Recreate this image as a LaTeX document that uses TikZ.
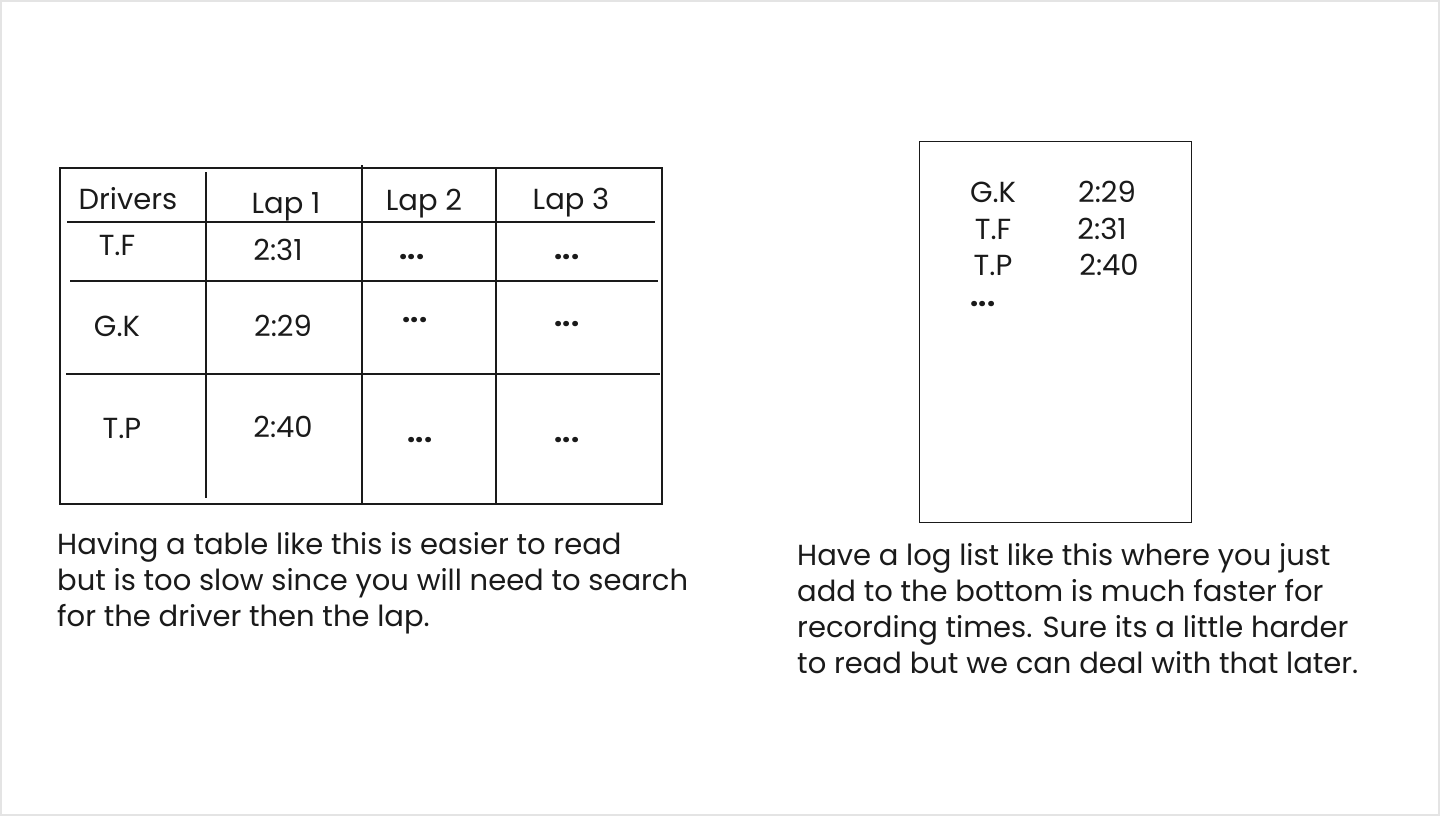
\documentclass[tikz,border=0pt]{standalone}
\usepackage{fontspec}
\setmainfont{Poppins}
\usetikzlibrary{positioning}
\definecolor{ink}{HTML}{1A1A1A}
\definecolor{edge}{HTML}{E4E4E4}
\begin{document}
\begin{tikzpicture}[x=1pt,y=-1pt,
  cell/.style={font=\fontsize{29}{32}\selectfont,text=ink,inner sep=0pt},
  dots/.style={font=\fontsize{29}{32}\selectfont\bfseries,text=ink,inner sep=0pt},
  note/.style={font=\fontsize{29}{36}\selectfont,text=ink,inner sep=0pt,align=left,anchor=north west},
  rule/.style={draw=ink,line width=1.3pt}]
\useasboundingbox (0,0) rectangle (1440,816);
\draw[edge,line width=4pt] (0,0) rectangle (1440,816);

% lap table
\draw[rule] (60,168) rectangle (662,504);
\draw[rule] (67,222) -- (655,222);
\draw[rule] (70,281) -- (658,281);
\draw[rule] (66,374) -- (660,374);
\draw[rule] (206,172) -- (206,498);
\draw[rule] (362,165) -- (362,504);
\draw[rule] (496,168) -- (496,503);

\node[cell] (hdrv) at (128,199) {Drivers};
\node[cell] (hlap1) at (286,207) {Lap 1};
\node[cell] (hlap2) at (424,204) {Lap 2};
\node[cell] (hlap3) at (571,203) {Lap 3};
\node[cell] (tf) at (117,245) {T.F};
\node[cell] (tf1) at (278,250) {2:31};
\node[dots] (tf2) at (412,257) {...};
\node[dots] (tf3) at (567,257) {...};
\node[cell] (gk) at (117,326) {G.K};
\node[cell] (gk1) at (283,326) {2:29};
\node[dots] (gk2) at (415,320) {...};
\node[dots] (gk3) at (567,324) {...};
\node[cell] (tp) at (122,428) {T.P};
\node[cell] (tp1) at (283,427) {2:40};
\node[dots] (tp2) at (420,440) {...};
\node[dots] (tp3) at (567,440) {...};

\node[note] (tablenote) at (57,532)
  {Having a table like this is easier to read\\
   but is too slow since you will need to search\\
   for the driver then the lap.};

% log list
\draw[rule,line width=1pt] (919,141) rectangle (1191,522);
\node[cell] (lgk) at (993,192) {G.K};
\node[cell] (lgk1) at (1107,192) {2:29};
\node[cell] (ltf) at (993,229) {T.F};
\node[cell] (ltf1) at (1102,229) {2:31};
\node[cell] (ltp) at (993,265) {T.P};
\node[cell] (ltp1) at (1109,265) {2:40};
\node[dots] (lmore) at (983,304) {...};

\node[note] (lognote) at (797,543)
  {Have a log list like this where you just\\
   add to the bottom is much faster for\\
   recording times. Sure its a little harder\\
   to read but we can deal with that later.};
\end{tikzpicture}
\end{document}
